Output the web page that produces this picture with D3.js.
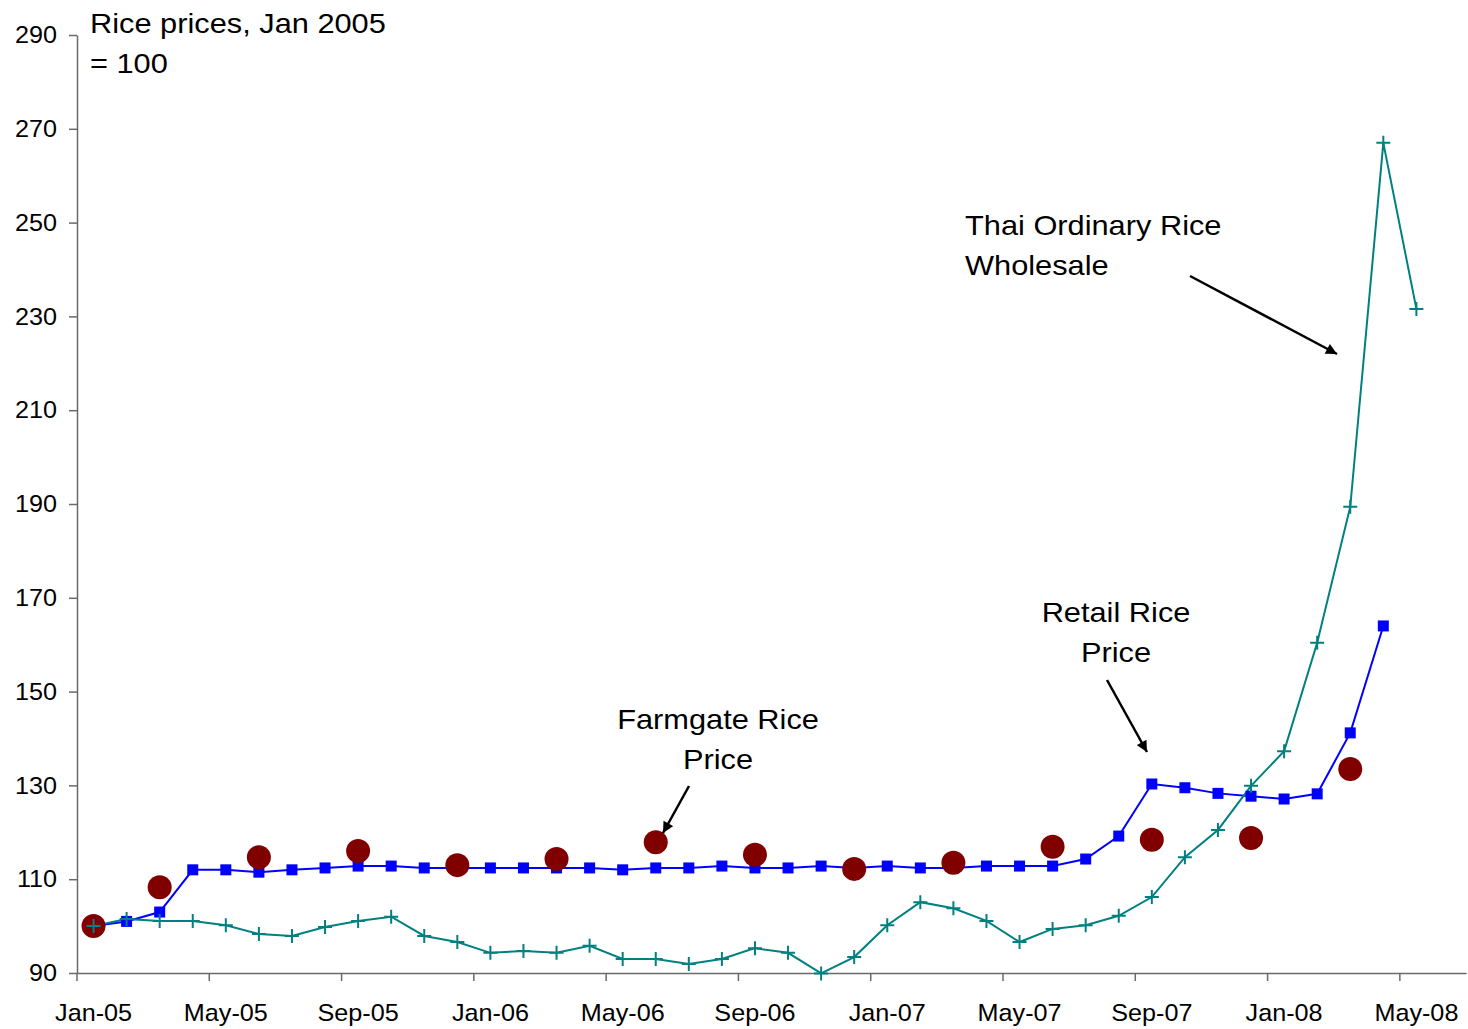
<!DOCTYPE html>
<html>
<head>
<meta charset="utf-8">
<script src="https://cdn.jsdelivr.net/npm/d3@7"></script>
<style>
  body { margin: 0; background: #fff; }
  svg { display: block; font-family: "Liberation Sans", Arial, sans-serif; }
</style>
</head>
<body>
<svg id="chart" width="1468" height="1029"></svg>
<script>
// Monthly categories Jan-05 .. Jun-08 (last slot is empty)
const months = d3.timeMonth.range(new Date(2005, 0, 1), new Date(2008, 6, 1));
const tickLabels = ['Jan-05', 'May-05', 'Sep-05', 'Jan-06', 'May-06', 'Sep-06',
  'Jan-07', 'May-07', 'Sep-07', 'Jan-08', 'May-08'];
const yTicks = [90, 110, 130, 150, 170, 190, 210, 230, 250, 270, 290];

// Retail rice price, Jan-05 .. Apr-08
const retail = [100, 101, 103, 112, 112, 111.5, 112, 112.4, 112.8, 112.8, 112.4, 112.4,
  112.4, 112.4, 112.4, 112.4, 112, 112.4, 112.4, 112.8, 112.4, 112.4, 112.8, 112.4,
  112.8, 112.4, 112.4, 112.8, 112.8, 112.8, 114.3, 119.2, 130.3, 129.5, 128.3, 127.7,
  127.1, 128.2, 141.2, 164];

// Thai ordinary rice wholesale, Jan-05 .. May-08
const wholesale = [100, 101.5, 101.1, 101.1, 100.2, 98.3, 97.9, 99.8, 101.1, 102, 97.9, 96.6,
  94.3, 94.7, 94.3, 95.8, 93, 93, 91.9, 93, 95.3, 94.3, 89.9, 93.4,
  100.2, 105.1, 103.8, 101.1, 96.6, 99.4, 100.2, 102.2, 106.2, 114.7, 120.5, 129.9,
  137.3, 160.4, 189.4, 267, 231.6];

// Farmgate rice price (quarterly), month index + value
const farmIdx = [0, 2, 5, 8, 11, 14, 17, 20, 23, 26, 29, 32, 35, 38];
const farmgate = [100, 108.3, 114.7, 116, 113, 114.3, 117.9, 115.2, 112.2, 113.5, 116.9, 118.4, 118.8, 133.5];

const svg = d3.select('#chart');
const fmt = d3.timeFormat('%b-%y');
const stretch = 1.05;

const x = d3.scaleBand().domain(months.map(fmt)).range([77, 1466]).padding(0);
const y = d3.scaleLinear().domain([90, 290]).range([973, 35]);
const cx = i => x(fmt(months[i])) + x.bandwidth() / 2;

// Axes
svg.append('g')
  .attr('transform', 'translate(77,0)')
  .call(d3.axisLeft(y).tickValues(yTicks).tickSize(8).tickSizeOuter(0).tickPadding(11));

const xAxis = svg.append('g')
  .attr('transform', 'translate(0,973)')
  .call(d3.axisBottom(x).tickValues(tickLabels).tickSize(8).tickSizeOuter(0).tickPadding(23));

// tick marks sit on the category boundary, labels on the centre
xAxis.selectAll('.tick line')
  .attr('x1', -x.bandwidth() / 2)
  .attr('x2', -x.bandwidth() / 2);

svg.selectAll('.domain, .tick line')
  .attr('stroke', '#6a6a6a')
  .attr('stroke-width', 1.5);
svg.selectAll('.tick text')
  .attr('font-size', 24)
  .attr('font-family', '"Liberation Sans", Arial, sans-serif')
  .attr('fill', '#000')
  .attr('transform', `scale(${stretch},1)`);

// Lines
const line = d3.line().x((d, i) => cx(i)).y(d => y(d));

svg.append('path')
  .datum(retail)
  .attr('fill', 'none')
  .attr('stroke', '#0000ff')
  .attr('stroke-width', 2)
  .attr('d', line);

svg.append('path')
  .datum(wholesale)
  .attr('fill', 'none')
  .attr('stroke', '#008080')
  .attr('stroke-width', 2)
  .attr('d', line);

// Retail markers
svg.append('g').selectAll('rect')
  .data(retail)
  .join('rect')
  .attr('x', (d, i) => cx(i) - 5.5)
  .attr('y', d => y(d) - 5.5)
  .attr('width', 11)
  .attr('height', 11)
  .attr('fill', '#0000ff');

// Farmgate markers
svg.append('g').selectAll('circle')
  .data(farmgate)
  .join('circle')
  .attr('cx', (d, i) => cx(farmIdx[i]))
  .attr('cy', d => y(d))
  .attr('r', 12)
  .attr('fill', '#800000');

// Wholesale markers (plus signs)
svg.append('g').selectAll('path')
  .data(wholesale)
  .join('path')
  .attr('d', (d, i) => {
    const px = cx(i), py = y(d);
    return `M${px - 7},${py}H${px + 7}M${px},${py - 7}V${py + 7}`;
  })
  .attr('stroke', '#008080')
  .attr('stroke-width', 2);

// Arrowhead
svg.append('defs').append('marker')
  .attr('id', 'arrow')
  .attr('viewBox', '0 0 10 10')
  .attr('refX', 10).attr('refY', 5)
  .attr('markerWidth', 13).attr('markerHeight', 11)
  .attr('markerUnits', 'userSpaceOnUse')
  .attr('orient', 'auto')
  .append('path')
  .attr('d', 'M0,0L10,5L0,10Z')
  .attr('fill', '#000');

function addNote(lines, px, py, anchor) {
  const g = svg.append('g')
    .attr('transform', `translate(${px},${py}) scale(1.14,1)`);
  lines.forEach((t, i) => {
    g.append('text')
      .attr('y', i * 40)
      .attr('text-anchor', anchor)
      .attr('font-size', 27)
      .attr('fill', '#000')
      .text(t);
  });
}

function addArrow(x1, y1, x2, y2) {
  svg.append('line')
    .attr('x1', x1).attr('y1', y1)
    .attr('x2', x2).attr('y2', y2)
    .attr('stroke', '#000')
    .attr('stroke-width', 2.5)
    .attr('marker-end', 'url(#arrow)');
}

addNote(['Rice prices, Jan 2005', '= 100'], 90, 33, 'start');
addNote(['Thai Ordinary Rice', 'Wholesale'], 965, 235, 'start');
addNote(['Retail Rice', 'Price'], 1116, 622, 'middle');
addNote(['Farmgate Rice', 'Price'], 718, 729, 'middle');

addArrow(1190, 276, 1337, 354);
addArrow(1107, 680, 1147, 752);
addArrow(689, 786, 663, 833);
</script>
</body>
</html>
